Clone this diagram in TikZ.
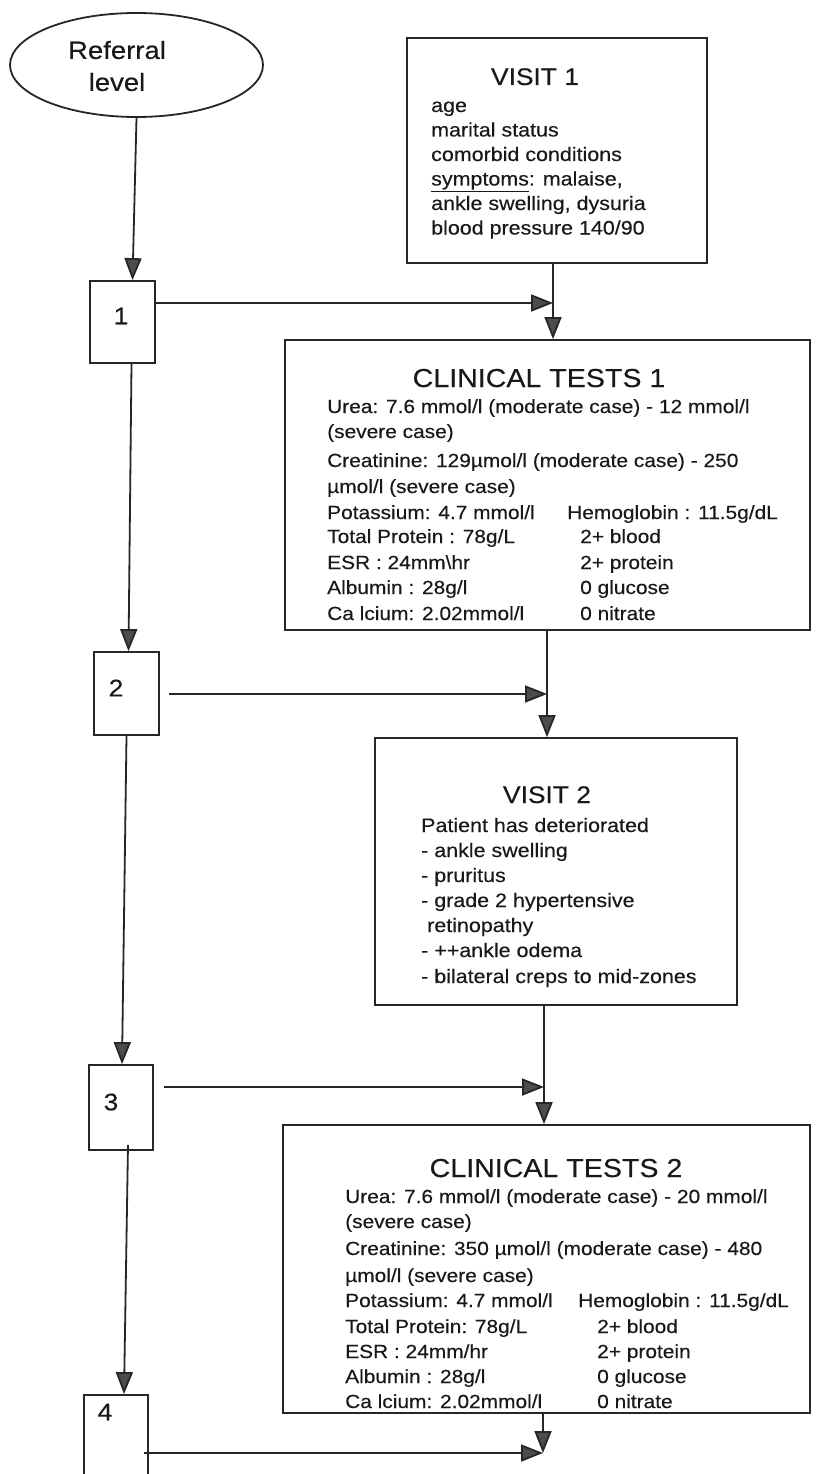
\documentclass[tikz,border=0pt]{standalone}
\usepackage{fontspec}
\setmainfont[FakeStretch=1.1,FakeBold=0.3]{Liberation Sans}
\usetikzlibrary{arrows.meta,shapes.geometric}
\begin{document}
\begin{tikzpicture}[x=1pt,y=-1pt,
  ink/.style={draw=black!85, line width=1.8pt},
  box/.style={ink, inner sep=0pt},
  arr/.style={ink, -{Triangle[length=22pt,width=17pt,fill=black!70]}},
  num/.style={inner sep=0pt, font=\fontsize{24}{28}\selectfont, text=black!90},
  ttl/.style={inner sep=0pt, anchor=base, font=\fontsize{24}{28}\selectfont, text=black!90},
  cttl/.style={inner sep=0pt, anchor=base, font=\fontsize{26}{30}\selectfont, text=black!90},
  vb/.style={inner sep=0pt, anchor=base west, font=\fontsize{19.5}{23}\selectfont, text=black!90},
  cb/.style={inner sep=0pt, anchor=base west, font=\fontsize{19}{23}\selectfont, text=black!90}]
\clip (0,0) rectangle (815,1474);
\fill[white] (0,0) rectangle (815,1474);

% referral ellipse
\node[ellipse, box, minimum width=253pt, minimum height=104pt] (ref) at (136.5,65) {};
\node[inner sep=0pt, align=center, font=\fontsize{25}{32}\selectfont, text=black!90] (reft) at (117,66) {Referral\\level};

% small numbered boxes
\node[box, minimum width=65pt, minimum height=82pt] (b1) at (122.5,322) {};
\node[box, minimum width=65pt, minimum height=83pt] (b2) at (126.5,693.5) {};
\node[box, minimum width=64pt, minimum height=85pt] (b3) at (121,1107.5) {};
\node[box, minimum width=64pt, minimum height=100pt] (b4) at (116,1445) {};
\node[num] (n1) at (121,316) {1};
\node[num] (n2) at (116,688) {2};
\node[num] (n3) at (111,1102) {3};
\node[num] (n4) at (105,1412) {4};

% big boxes
\node[box, minimum width=300pt, minimum height=225pt] (v1) at (557,150.5) {};
\node[box, minimum width=525pt, minimum height=290pt] (ct1) at (547.5,485) {};
\node[box, minimum width=362pt, minimum height=267pt] (v2) at (556,871.5) {};
\node[box, minimum width=527pt, minimum height=288pt] (ct2) at (546.5,1269) {};

% VISIT 1
\node[ttl] (v1t) at (535,85) {VISIT 1};
\node[vb] (v1a) at (431,112) {age};
\node[vb] (v1b) at (431,136.5) {marital status};
\node[vb] (v1c) at (431,161) {comorbid conditions};
\node[vb] (v1d) at (431,185.5) {\underline{symptoms}: malaise,};
\node[vb] (v1e) at (431,210) {ankle swelling, dysuria};
\node[vb] (v1f) at (431,234.5) {blood pressure 140/90};

% CLINICAL TESTS 1
\node[cttl] (c1t) at (539,387) {CLINICAL TESTS 1};
\node[cb] (c1a) at (327,413) {Urea: 7.6 mmol/l (moderate case) - 12 mmol/l};
\node[cb] (c1b) at (327,438) {(severe case)};
\node[cb] (c1c) at (327,467) {Creatinine: 129µmol/l (moderate case) - 250};
\node[cb] (c1d) at (327,493) {µmol/l (severe case)};
\node[cb] (c1e) at (327,519) {Potassium: 4.7 mmol/l};
\node[cb] (c1f) at (327,543) {Total Protein : 78g/L};
\node[cb] (c1g) at (327,569) {ESR : 24mm\textbackslash hr};
\node[cb] (c1h) at (327,594) {Albumin : 28g/l};
\node[cb] (c1i) at (327,620) {Ca lcium: 2.02mmol/l};
\node[cb] (c1j) at (567,519) {Hemoglobin : 11.5g/dL};
\node[cb] (c1k) at (580,543) {2+ blood};
\node[cb] (c1l) at (580,569) {2+ protein};
\node[cb] (c1m) at (580,594) {0 glucose};
\node[cb] (c1n) at (580,620) {0 nitrate};

% VISIT 2
\node[ttl] (v2t) at (547,803) {VISIT 2};
\node[vb] (v2a) at (421,832) {Patient has deteriorated};
\node[vb] (v2b) at (421,857) {- ankle swelling};
\node[vb] (v2c) at (421,882) {- pruritus};
\node[vb] (v2d) at (421,907) {- grade 2 hypertensive};
\node[vb] (v2e) at (427,932) {retinopathy};
\node[vb] (v2f) at (421,957) {- ++ankle odema};
\node[vb] (v2g) at (421,983) {- bilateral creps to mid-zones};

% CLINICAL TESTS 2
\node[cttl] (c2t) at (556,1177) {CLINICAL TESTS 2};
\node[cb] (c2a) at (345,1203) {Urea: 7.6 mmol/l (moderate case) - 20 mmol/l};
\node[cb] (c2b) at (345,1228) {(severe case)};
\node[cb] (c2c) at (345,1255) {Creatinine: 350 µmol/l (moderate case) - 480};
\node[cb] (c2d) at (345,1282) {µmol/l (severe case)};
\node[cb] (c2e) at (345,1307) {Potassium: 4.7 mmol/l};
\node[cb] (c2f) at (345,1333) {Total Protein: 78g/L};
\node[cb] (c2g) at (345,1358) {ESR : 24mm/hr};
\node[cb] (c2h) at (345,1383) {Albumin : 28g/l};
\node[cb] (c2i) at (345,1408) {Ca lcium: 2.02mmol/l};
\node[cb] (c2j) at (578,1307) {Hemoglobin : 11.5g/dL};
\node[cb] (c2k) at (597,1333) {2+ blood};
\node[cb] (c2l) at (597,1358) {2+ protein};
\node[cb] (c2m) at (597,1383) {0 glucose};
\node[cb] (c2n) at (597,1408) {0 nitrate};

% junctions on the right-hand trunk
\coordinate (j1) at (553,303);
\coordinate (j2) at (547,694);
\coordinate (j3) at (544,1087);
\coordinate (j4) at (543,1453);

% left chain
\draw[arr] (ref.south) -- ([xshift=10pt]b1.north);
\draw[arr] ([xshift=9pt]b1.south) -- ([xshift=2pt]b2.north);
\draw[arr] (b2.south) -- ([xshift=1pt]b3.north);
\draw[arr] ([xshift=7pt,yshift=6pt]b3.south) -- ([xshift=8pt]b4.north);

% horizontal arrows
\draw[arr] (b1.east |- j1) -- (j1);
\draw[arr, shorten <=9pt] (b2.east |- j2) -- (j2);
\draw[arr, shorten <=10pt] (b3.east |- j3) -- (j3);
\draw[arr, shorten <=-5pt] (b4.east |- j4) -- (j4);

% right trunk
\draw[arr] (v1.south -| j1) -- (ct1.north -| j1);
\draw[arr] (ct1.south -| j2) -- (v2.north -| j2);
\draw[arr] (v2.south -| j3) -- (ct2.north -| j3);
\draw[arr] (ct2.south -| j4) -- (j4);
\end{tikzpicture}
\end{document}
